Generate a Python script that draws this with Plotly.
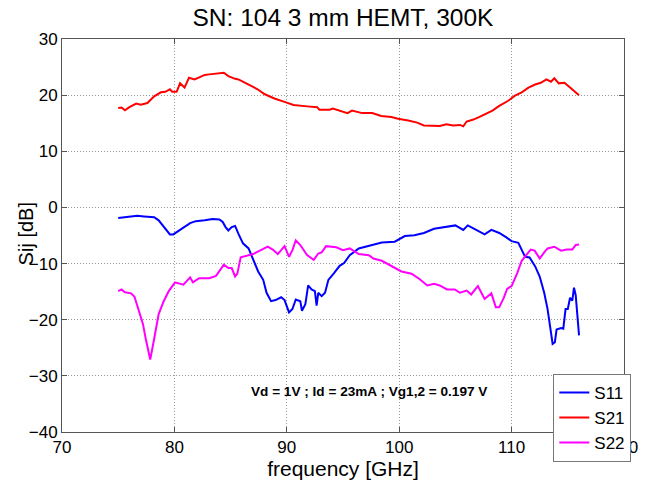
import plotly.graph_objects as go

# ---- data ----
s21_f = [75.0, 75.3, 75.6, 76.0, 76.6, 77.0, 77.6, 78.2, 78.8, 79.2, 79.6, 79.8, 80.2, 80.5, 80.9,
         81.3, 81.8, 82.2, 82.7, 83.1, 83.7, 84.4, 84.8, 85.4, 85.7, 86.3, 87.0, 87.4, 88.0, 88.9,
         89.8, 90.6, 91.8, 92.7, 92.9, 93.8, 94.1, 94.7, 95.4, 95.8, 96.7, 97.6, 98.4, 99.3, 99.9,
         100.8, 101.6, 102.2, 103.1, 103.6, 104.2, 104.8, 105.4, 105.7, 106.0, 106.6, 107.1, 107.7,
         108.3, 108.9, 109.7, 110.3, 110.9, 111.5, 112.1, 112.6, 113.1, 113.5, 113.8, 114.2, 114.7,
         115.2, 115.7, 116.0]
s21_v = [17.7, 17.8, 17.3, 17.85, 18.5, 18.3, 18.6, 19.8, 20.5, 20.6, 21.05, 20.6, 20.6, 22.1, 21.35,
         23.1, 22.8, 23.1, 23.6, 23.7, 23.8, 24.0, 23.4, 22.9, 22.8, 22.2, 21.5, 21.05, 20.2, 19.4,
         18.8, 18.25, 18.0, 17.85, 17.4, 17.4, 17.6, 17.25, 16.8, 17.25, 16.8, 16.8, 16.3, 16.1, 15.8,
         15.5, 15.1, 14.6, 14.5, 14.5, 14.8, 14.6, 14.7, 14.45, 15.3, 15.65, 16.1, 16.7,
         17.25, 18.1, 19.0, 19.9, 20.5, 21.35, 21.9, 22.2, 22.8, 22.4, 23.0, 22.1, 22.2,
         21.35, 20.6, 20.0]

s11_f = [75.0, 75.9, 76.7, 77.3, 78.2, 78.6, 79.05, 79.6, 79.9, 80.4, 80.8, 81.4, 81.9, 82.7, 83.4,
         84.0, 84.3, 84.55, 84.8, 85.1, 85.4, 85.7, 86.1, 86.6, 87.0, 87.45, 87.9, 88.2, 88.6, 89.0,
         89.5, 89.8, 90.2, 90.5, 90.8, 91.2, 91.35, 91.65, 91.9, 92.2, 92.5, 92.65, 92.8, 93.1, 93.4,
         93.7, 94.2, 94.7, 95.1, 95.6, 96.4, 97.3, 98.45, 99.6, 100.5, 101.35, 102.2, 103.1, 104.25,
         105.0, 105.7, 106.1, 106.85, 107.6, 108.2, 108.9, 109.5, 110.0, 110.6, 111.2, 111.6, 112.1,
         112.5, 112.9, 113.2, 113.45, 113.65, 113.85, 114.0, 114.4, 114.6, 114.8, 115.0, 115.2, 115.4,
         115.55, 115.7, 116.0]
s11_v = [-1.9, -1.75, -1.5, -1.6, -1.75, -2.3, -3.5, -4.8, -4.8, -4.2, -3.6, -2.8, -2.45, -2.3, -2.05,
         -2.15, -2.6, -3.5, -4.1, -3.5, -3.3, -4.7, -6.4, -7.3, -9.1, -11.4, -12.9, -15.2, -16.7, -16.5,
         -16.0, -16.5, -18.7, -18.1, -16.4, -16.7, -18.4, -17.25, -13.9, -14.6, -14.9, -17.5, -15.2, -15.8, -15.2,
         -12.9, -11.7, -10.4, -9.9, -8.5, -7.3, -6.8, -6.25, -6.1, -5.1, -4.95, -4.55, -3.8, -3.4,
         -3.2, -4.0, -3.2, -4.0, -4.8, -4.0, -4.55, -5.3, -6.0, -6.3, -8.8, -8.9, -10.5,
         -12.3, -15.2, -18.1, -21.6, -24.3, -24.0, -21.75, -21.5, -21.6, -18.1, -18.1, -16.1, -16.6,
         -14.3, -15.6, -22.8]

s22_f = [75.0, 75.3, 75.6, 76.15, 76.45, 76.7, 77.2, 77.45, 77.85, 78.2, 78.6, 79.05, 79.5, 80.05, 80.8,
         81.4, 81.65, 82.2, 83.1, 83.7, 84.0, 84.4, 84.8, 85.1, 85.4, 85.6, 85.9, 86.4, 87.0, 87.6,
         88.3, 88.75, 89.2, 89.8, 90.2, 90.5, 90.8, 91.2, 91.8, 92.4, 92.8, 93.1, 93.5, 94.4, 95.0,
         95.6, 96.4, 97.3, 97.7, 98.45, 99.3, 100.2, 101.1, 101.8, 102.5, 103.1, 103.6, 104.25, 104.95,
         105.4, 106.0, 106.4, 107.0, 107.6, 108.2, 108.6, 108.9, 109.3, 109.6, 110.0, 110.5, 110.9,
         111.3, 111.7, 112.05, 112.5, 112.9, 113.2, 113.8, 114.4, 114.9, 115.4, 115.7, 116.0]
s22_v = [-14.9, -14.6, -15.1, -15.3, -15.9, -17.5, -20.75, -23.4, -27.1, -23.4, -19.0, -16.7, -14.9, -13.35, -13.75,
         -12.45, -13.35, -12.6, -12.6, -12.2, -11.4, -10.2, -10.8, -10.8, -12.3, -11.8, -8.9, -8.65, -8.3, -7.7,
         -7.0, -7.5, -8.3, -6.9, -8.8, -7.6, -5.85, -6.7, -8.5, -9.35, -8.2, -8.0, -6.9, -7.1, -7.6,
         -7.3, -8.3, -8.5, -9.1, -9.5, -10.4, -11.4, -11.8, -12.75, -13.9, -13.6, -13.9, -14.6, -14.6,
         -15.2, -14.8, -15.5, -14.0, -16.3, -15.3, -17.8, -17.8, -16.1, -14.5, -14.0, -11.7, -9.5,
         -8.5, -7.5, -7.7, -9.1, -8.0, -7.3, -7.0, -7.7, -7.5, -7.5, -6.7, -6.6]

x_ticks = [70, 80, 90, 100, 110, 120]
y_ticks = [30, 20, 10, 0, -10, -20, -30, -40]

title_text = "SN: 104 3 mm HEMT, 300K"
x_title = "frequency [GHz]"
y_title = "Sij [dB]"
note_text = "Vd = 1V ; Id = 23mA ; Vg1,2 = 0.197 V"

FONT = "Liberation Sans, Arial, Helvetica, sans-serif"

fig = go.Figure()
fig.add_trace(go.Scatter(x=s11_f, y=s11_v, mode="lines", name="S11",
                         line=dict(color="#0000ff", width=2)))
fig.add_trace(go.Scatter(x=s21_f, y=s21_v, mode="lines", name="S21",
                         line=dict(color="#ff0000", width=2)))
fig.add_trace(go.Scatter(x=s22_f, y=s22_v, mode="lines", name="S22",
                         line=dict(color="#ff00ff", width=2)))

axis_common = dict(
    showline=True, linecolor="#555555", linewidth=1, mirror="allticks",
    ticks="inside", ticklen=5, tickcolor="#555555",
    showgrid=True, gridcolor="#999999", griddash="1px,2px", gridwidth=1,
    zeroline=False, tickfont=dict(family=FONT, size=17, color="black"),
)

fig.update_xaxes(range=[70, 120], tickvals=x_ticks, ticklabeloverflow="allow",
                 title=dict(text=x_title, font=dict(family=FONT, size=21, color="black"), standoff=2),
                 **axis_common)
fig.update_yaxes(range=[-40, 30], tickvals=y_ticks, **axis_common)

# y-axis title placed close to the tick labels, as in the reference
fig.add_annotation(x=-37 / 575.5, y=0.505, xref="paper", yref="paper", text=y_title,
                   textangle=-90, showarrow=False, xanchor="center", yanchor="middle",
                   font=dict(family=FONT, size=20, color="black"))

fig.add_annotation(x=97.3, y=-32.8, xref="x", yref="y", text="<b>" + note_text + "</b>",
                   showarrow=False, font=dict(family=FONT, size=13.6, color="black"))

fig.update_layout(
    width=645, height=481,
    margin=dict(l=62, r=7, t=39, b=43),
    paper_bgcolor="white", plot_bgcolor="white",
    title=dict(text=title_text, x=0.5, xref="paper", xanchor="center", y=0.963, yanchor="middle",
               font=dict(family=FONT, size=24.5, color="black")),
    legend=dict(x=1.013, y=0.148, xanchor="right", yanchor="top",
                bgcolor="white", bordercolor="#777777", borderwidth=1,
                font=dict(family=FONT, size=17, color="black"), tracegroupgap=0),
    showlegend=True,
)

fig.write_html("out.html")
